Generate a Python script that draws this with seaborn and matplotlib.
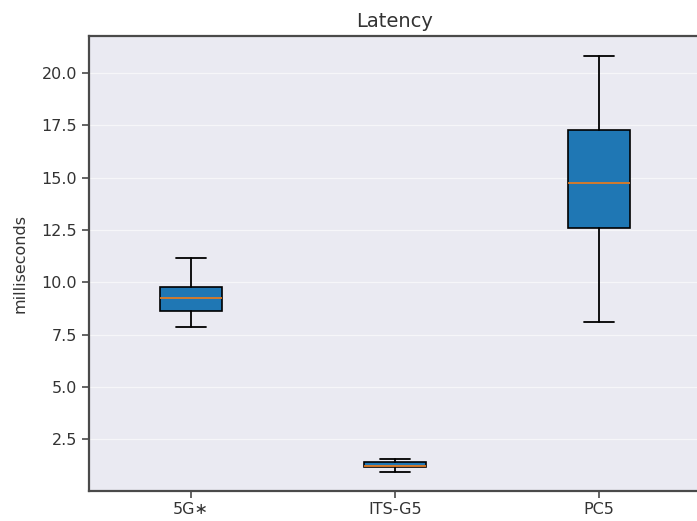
import matplotlib
matplotlib.use("Agg")
import matplotlib.pyplot as plt
import seaborn as sns

# --- data ---
techs = ["5G\u2217", "ITS-G5", "PC5"]
whis_low = [7.85, 0.93, 8.09]
q1 = [8.65, 1.16, 12.58]
median = [9.23, 1.25, 14.73]
q3 = [9.76, 1.41, 17.26]
whis_high = [11.16, 1.58, 20.80]

# --- style ---
sns.set_theme(style="darkgrid")
plt.rcParams["font.family"] = ["DejaVu Sans"]
plt.rcParams["axes.edgecolor"] = "#4a4a4a"
plt.rcParams["axes.linewidth"] = 1.6

fig = plt.figure(figsize=(6.97, 5.21), dpi=100)
ax = fig.add_axes([0.1277, 0.0582, 0.878, 0.8733])

stats = []
for i, name in enumerate(techs):
    stats.append({
        "label": name,
        "whislo": whis_low[i],
        "q1": q1[i],
        "med": median[i],
        "q3": q3[i],
        "whishi": whis_high[i],
        "fliers": [],
    })

ax.bxp(
    stats,
    patch_artist=True,
    showfliers=False,
    boxprops=dict(facecolor="#1f77b4", edgecolor="black", linewidth=1.2),
    medianprops=dict(color="#e07b22", linewidth=1.3),
    whiskerprops=dict(color="black", linewidth=1.3),
    capprops=dict(color="black", linewidth=1.3),
)

ax.set_xlim(0.5, 3.5)
ax.set_ylim(0.05, 21.77)
ax.set_yticks([2.5, 5.0, 7.5, 10.0, 12.5, 15.0, 17.5, 20.0])
ax.grid(axis="x", visible=False)
ax.grid(axis="y", color="white", linewidth=0.9, alpha=0.6)
ax.set_axisbelow(True)

ax.tick_params(axis="both", which="major", bottom=True, left=True,
               length=5, width=1.2, color="#4a4a4a",
               labelsize=11.5, labelcolor="#333333")
ax.set_title("Latency", fontsize=14, color="#333333")
ax.set_ylabel("milliseconds", fontsize=11.5, color="#333333", labelpad=10)

for s in ax.spines.values():
    s.set_visible(True)

fig.savefig("out.png", dpi=100)
